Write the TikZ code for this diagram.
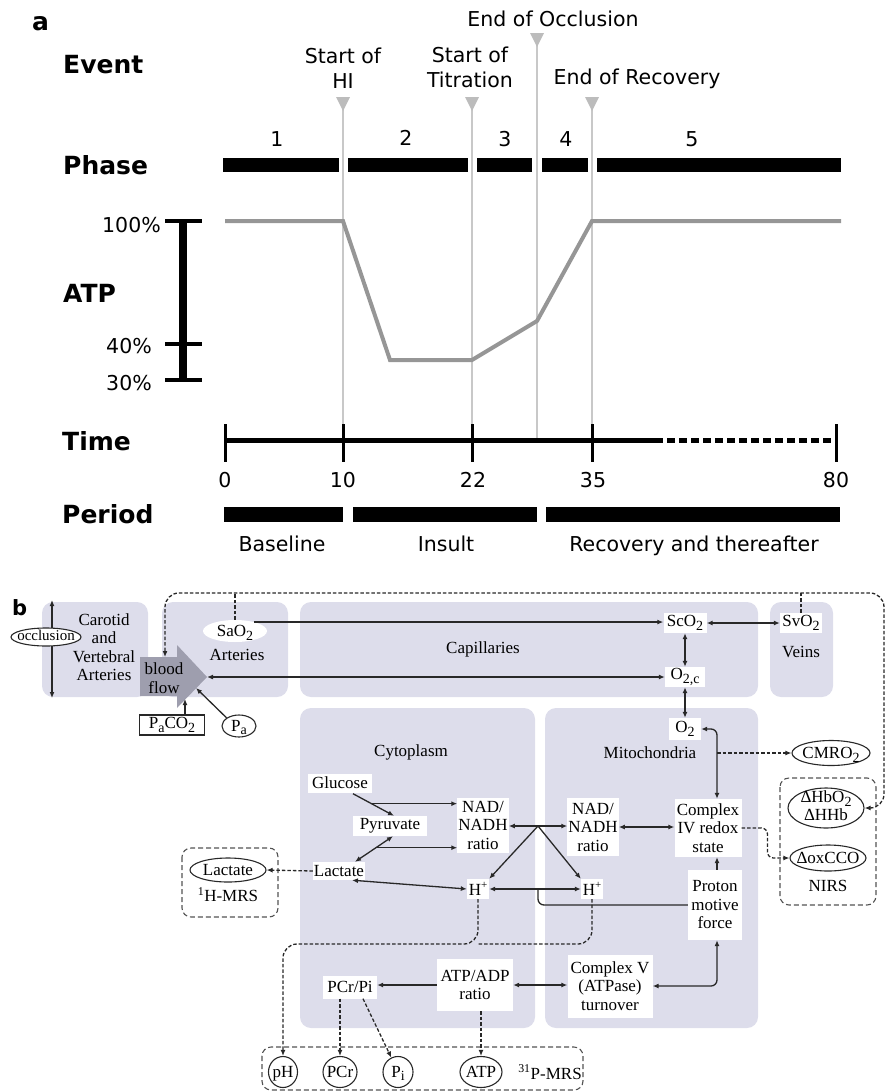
\documentclass[tikz,border=0pt]{standalone}
\usepackage{fontspec}
\setmainfont{Liberation Serif}
\newfontfamily\dv{DejaVu Sans}
\usetikzlibrary{arrows.meta,shapes.geometric,calc}
\definecolor{lav}{RGB}{221,221,235}
\definecolor{bfgray}{RGB}{158,158,174}
\definecolor{evgray}{RGB}{200,200,200}
\definecolor{trigray}{RGB}{188,188,188}
\definecolor{atpgray}{RGB}{150,150,150}
\definecolor{ink}{RGB}{40,40,40}
\newcommand\lo[1]{\raisebox{-0.22em}{\fontsize{14}{14}\selectfont #1}}
\newcommand\hi[1]{\raisebox{0.45em}{\fontsize{11}{11}\selectfont #1}}
\newcommand\zt[2][0.33em]{\makebox[0pt]{\raisebox{-#1}[0pt][0pt]{#2}}}
\tikzset{
 lab/.style={font=\dv\bfseries\fontsize{25}{30}\selectfont, anchor=base west, inner sep=0pt},
 ev/.style={font=\dv\fontsize{20.5}{24}\selectfont, anchor=base, inner sep=0pt},
 evline/.style={draw=evgray, line width=2pt},
 evtri/.style={fill=trigray},
 bar/.style={fill=black},
 reg/.style={fill=lav, rounded corners=11pt},
 bt/.style={font=\fontsize{17}{18.5}\selectfont, inner sep=0pt, align=center},
 wbox/.style={fill=white, inner sep=1pt, align=center, font=\fontsize{17}{18.5}\selectfont},
 oval/.style={draw=ink, ellipse, fill=white, inner sep=0pt, line width=1.1pt, font=\fontsize{17}{18.5}\selectfont},
 con/.style={draw=ink, line width=1.3pt, -{Latex[length=6pt,width=5pt]}},
 con2/.style={draw=ink, line width=1.3pt, {Latex[length=6pt,width=5pt]}-{Latex[length=6pt,width=5pt]}},
 dcon/.style={con, dash pattern=on 3.5pt off 2pt},
 dline/.style={draw=ink, line width=1.3pt, dash pattern=on 3.5pt off 2pt},
 dbox/.style={draw=ink!80, line width=1.1pt, dash pattern=on 5pt off 3pt, rounded corners=9pt},
}
\begin{document}
\begin{tikzpicture}[x=1pt,y=-1pt]
\useasboundingbox (0,0) rectangle (886,1092);
% ================= panel a =================
\node[lab] (lbla) at (32,30) {a};
\node[lab] (levent) at (63,73) {Event};
\node[lab] (lphase) at (63,174) {Phase};
\node[lab] (latp) at (63,302) {ATP};
\node[lab] (ltime) at (62,450) {Time};
\node[lab] (lperiod) at (62,523) {Period};
% event lines and markers
\draw[evline] (343,97) -- (343,440);
\draw[evline] (472,97) -- (472,440);
\draw[evline] (537,33) -- (537,440);
\draw[evline] (592,97) -- (592,440);
\fill[evtri] (336,97) -- (350,97) -- (343,111) -- cycle;
\fill[evtri] (465,97) -- (479,97) -- (472,111) -- cycle;
\fill[evtri] (530,33) -- (544,33) -- (537,47) -- cycle;
\fill[evtri] (585,97) -- (599,97) -- (592,111) -- cycle;
\node[ev] (e1a) at (343,63) {Start of};
\node[ev] (e1b) at (343,88) {HI};
\node[ev] (e2a) at (470,62) {Start of};
\node[ev] (e2b) at (470,87) {Titration};
\node[ev] (e3) at (553,27) {End of Occlusion};
\node[ev] (e4) at (637,84) {End of Recovery};
% phase bars
\fill[bar] (223,158) rectangle (339,172);
\fill[bar] (348,158) rectangle (468,172);
\fill[bar] (477,158) rectangle (532,172);
\fill[bar] (542,158) rectangle (588,172);
\fill[bar] (597,158) rectangle (841,172);
\node[ev] (p1) at (277,146) {1};
\node[ev] (p2) at (406,145) {2};
\node[ev] (p3) at (505,146) {3};
\node[ev] (p4) at (566,146) {4};
\node[ev] (p5) at (692,146) {5};
% ATP axis
\draw[line width=8pt] (183,219) -- (183,382);
\draw[line width=4pt] (165,221) -- (202,221);
\draw[line width=4pt] (165,344) -- (202,344);
\draw[line width=4pt] (165,380) -- (202,380);
\node[ev, anchor=base east] (a100) at (161,232) {100\%};
\node[ev, anchor=base east] (a40) at (152,353) {40\%};
\node[ev, anchor=base east] (a30) at (152,390) {30\%};
% ATP curve
\draw[atpgray, line width=4pt] (225,221) -- (343,221) -- (390,360) -- (472,360) -- (537,321) -- (592,221) -- (841,221);
% time axis
\draw[line width=5pt] (225,440) -- (655,440);
\draw[line width=5pt, dash pattern=on 8pt off 4pt] (655,440) -- (836,440);
\foreach \tx in {225,343,472,592,836} {\draw[line width=3pt] (\tx,424) -- (\tx,462);}
\node[ev] (t0) at (225,487) {0};
\node[ev] (t10) at (343,487) {10};
\node[ev] (t22) at (473,487) {22};
\node[ev] (t35) at (593,487) {35};
\node[ev] (t80) at (836,487) {80};
% period bars
\fill[bar] (224,507) rectangle (343,522);
\fill[bar] (353,507) rectangle (537,522);
\fill[bar] (546,507) rectangle (840,522);
\node[ev] (pb) at (282,551) {Baseline};
\node[ev] (pi1) at (446,551) {Insult};
\node[ev] (pr) at (694,551) {Recovery and thereafter};
% ================= panel b =================
\node[font=\dv\bfseries\fontsize{21}{24}\selectfont, anchor=base west, inner sep=0pt] (lblb) at (12,615) {b};
% regions
\path[reg] (42,602) rectangle (148,697);
\path[reg] (162,602) rectangle (288,697);
\path[reg] (300,602) rectangle (758,697);
\path[reg] (770,602) rectangle (833,697);
\path[reg] (300,708) rectangle (535,1028);
\path[reg] (545,708) rectangle (758,1028);
% blood flow arrow
\fill[bfgray] (140,657) -- (177,657) -- (177,645) -- (207,677) -- (177,708) -- (177,696) -- (140,696) -- cycle;
\node[bt] (bftxt) at (164,678) {blood\\flow};
\coordinate (bftip) at (207,677);
\coordinate (bftop) at (165,657);
\coordinate (bfbot) at (185,699);
\coordinate (bfpa) at (196,688);
% helper coordinates
\coordinate (J) at (538,826);
\coordinate (x717) at (717,0);
\coordinate (x884) at (884,0);
\coordinate (ytop) at (0,593);
\coordinate (yline) at (0,944);
\coordinate (occT) at (52,600);
\coordinate (occB) at (52,698);
% dashed boxes
\draw[dbox] (182,848) rectangle (278,917);
\draw[dbox] (780,778) rectangle (876,905);
\draw[dbox] (262,1047) rectangle (583,1090);
% carotid
\draw[con2] (occT) -- (occB);
\node[bt] (cvtxt) at (104,647) {Carotid\\and\\Vertebral\\Arteries};
\node[oval, minimum width=70pt, minimum height=18pt, font=\fontsize{15}{17}\selectfont] (occl) at (46,637) {\zt[0.25em]{occlusion}};
% labels
\node[ellipse, fill=white, minimum width=64pt, minimum height=22pt, inner sep=0pt, font=\fontsize{17}{18.5}\selectfont] (sao2) at (235,631) {\zt{SaO\lo{2}}};
\node[bt] (arttxt) at (237,655) {Arteries};
\node[bt] (captxt) at (483,649) {Capillaries};
\node[bt] (veintxt) at (801,652) {Veins};
\node[bt] (mitotxt) at (650,753) {Mitochondria};
\node[bt] (cytotxt) at (411,752) {Cytoplasm};
% white boxes
\node[wbox, minimum width=43pt, minimum height=20pt] (sco2) at (685,623) {ScO\lo{2}};
\node[wbox, minimum width=42pt, minimum height=20pt] (svo2) at (801,623) {SvO\lo{2}};
\node[wbox, minimum width=40pt, minimum height=20pt] (o2c) at (685,677) {O\lo{2,c}};
\node[wbox, minimum width=32pt, minimum height=22pt] (o2) at (685,729) {O\lo{2}};
\node[wbox, minimum width=47pt, minimum height=58pt] (nadm) at (593,827) {NAD/\\NADH\\ratio};
\node[wbox, minimum width=67pt, minimum height=58pt] (c4) at (708,828) {Complex\\IV redox\\state};
\node[wbox, minimum width=54pt, minimum height=70pt] (pmf) at (715,905) {Proton\\motive\\force};
\node[wbox, minimum width=85pt, minimum height=63pt] (c5) at (610,986) {Complex V\\(ATPase)\\turnover};
\node[wbox, minimum width=76pt, minimum height=52pt] (atpadp) at (475,985) {ATP/ADP\\ratio};
\node[wbox, minimum width=54pt, minimum height=23pt] (pcrpi) at (350,987) {PCr/Pi};
\node[wbox, minimum width=64pt, minimum height=19pt] (glucose) at (340,783) {Glucose};
\node[wbox, minimum width=74pt, minimum height=20pt] (pyruvate) at (390,826) {Pyruvate};
\node[wbox, minimum width=50pt, minimum height=55pt] (nadc) at (483,825) {NAD/\\NADH\\ratio};
\node[wbox, minimum width=52pt, minimum height=18pt] (lactc) at (339,871) {Lactate};
\node[wbox, minimum width=22pt, minimum height=20pt] (hc) at (478,889) {H\hi{+}};
\node[wbox, minimum width=22pt, minimum height=20pt] (hm) at (592,889) {H\hi{+}};
\node[draw=ink, line width=1.1pt, fill=white, minimum width=65pt, minimum height=20pt, inner sep=0pt, font=\fontsize{17}{18.5}\selectfont] (paco2) at (172,725) {P\lo{a}CO\lo{2}};
% ovals
\node[oval, minimum width=34pt, minimum height=22pt] (pa) at (239,726) {\zt[0.3em]{P\lo{a}}};
\node[oval, minimum width=76pt, minimum height=24pt] (lacte) at (228,870) {\zt{Lactate}};
\node[oval, minimum width=78pt, minimum height=25pt] (cmro2) at (831,753) {\zt{CMRO\lo{2}}};
\node[oval, minimum width=76pt, minimum height=40pt] (hbo2) at (826,808) {\zt[0.25em]{\begin{tabular}{@{}c@{}}ΔHbO\lo{2}\\ΔHHb\end{tabular}}};
\node[oval, minimum width=76pt, minimum height=26pt] (doxcco) at (828,858) {\zt{ΔoxCCO}};
\node[oval, minimum width=29pt, minimum height=31pt] (ph) at (283,1072) {\zt[0.3em]{pH}};
\node[oval, minimum width=34pt, minimum height=31pt] (pcr) at (340,1072) {\zt{PCr}};
\node[oval, minimum width=30pt, minimum height=31pt] (pi) at (398,1072) {\zt[0.3em]{P\lo{i}}};
\node[oval, minimum width=42pt, minimum height=31pt] (atp) at (481,1072) {\zt{ATP}};
\node[bt] (hmrs) at (228,895) {\textsuperscript{1}H-MRS};
\node[bt] (pmrs) at (550,1072) {\textsuperscript{31}P-MRS};
\node[bt] (nirs) at (828,886) {NIRS};
% ---- connectors ----
\draw[dline, {Latex[length=6pt,width=5pt]}-{Latex[length=6pt,width=5pt]}, rounded corners=14pt] (hbo2.east) -| (x884 |- ytop) -| (bftop);
\draw[dline] (sao2.north) -- (sao2.north |- ytop);
\draw[dline] (svo2.north) -- (svo2.north |- ytop);
\draw[con] (sao2.25) -- (sao2.25 -| sco2.west);
\draw[con2] (sco2.east) -- (svo2.west);
\draw[con2] (sco2.south) -- (o2c.north);
\draw[con2] (bftip) -- (bftip -| o2c.west);
\draw[con2] (o2c.south) -- (o2.north);
\draw[con2, rounded corners=6pt] (o2.east) -| (c4.north -| x717);
\draw[dcon] (cmro2 -| x717) -- (cmro2.west);
\draw[dcon, rounded corners=6pt] (c4.east) -| ($(doxcco.west)+(-22,0)$) -- (doxcco.west);
\draw[con2] (nadm.east) -- (nadm.east -| c4.west);
\draw[con] (pmf.north -| x717) -- (c4.south -| x717);
\draw[con2, rounded corners=6pt] (c5.east) -| (pmf.south -| x717);
\draw[con2] (atpadp.east) -- (atpadp.east -| c5.west);
\draw[con] (atpadp.west) -- (atpadp.west -| pcrpi.east);
\draw[dcon] (pcrpi.south -| pcr) -- (pcr.north);
\draw[dcon] ($(pcrpi.south)+(13,0)$) -- (pi.115);
\draw[dcon] (atpadp.south -| atp) -- (atp.north);
\draw[con] (paco2.north -| bfbot) -- (bfbot);
\draw[con] (pa.north west) -- (bfpa);
% glycolysis
\coordinate (gs) at ($(glucose.south)+(13,1)$);
\coordinate (pe) at ($(pyruvate.north)+(4,0)$);
\draw[con] (gs) -- (pe);
\coordinate (gside) at ($(gs)!0.45!(pe)$);
\draw[con] (gside) -- (gside -| nadc.west);
\coordinate (ps) at ($(pyruvate.south)+(3,0)$);
\coordinate (le) at ($(lactc.north)+(16,0)$);
\draw[con2] (ps) -- (le);
\coordinate (pside) at ($(ps)!0.45!(le)$);
\draw[con] (pside) -- (pside -| nadc.west);
\draw[con2] ($(lactc.south)+(13,0)$) -- (hc.west);
\draw[dcon] (lactc.west) -- (lacte.east);
% junction
\draw[con] (J) -- (J -| nadc.east);
\draw[con] (J) -- (J -| nadm.west);
\draw[con] (J) -- (hc.north east);
\draw[con] (J) -- (hm.north west);
\draw[con2] (hc.east) -- (hm.west);
\draw[draw=ink, line width=1.3pt, rounded corners=6pt] (pmf.west) -| (hc -| J);
% to pH
\draw[dcon, rounded corners=14pt] (hc.south) |- (ph |- yline) -- (ph.north);
\draw[dline, rounded corners=14pt] (hm.south) |- (hc |- yline);
\end{tikzpicture}
\end{document}
